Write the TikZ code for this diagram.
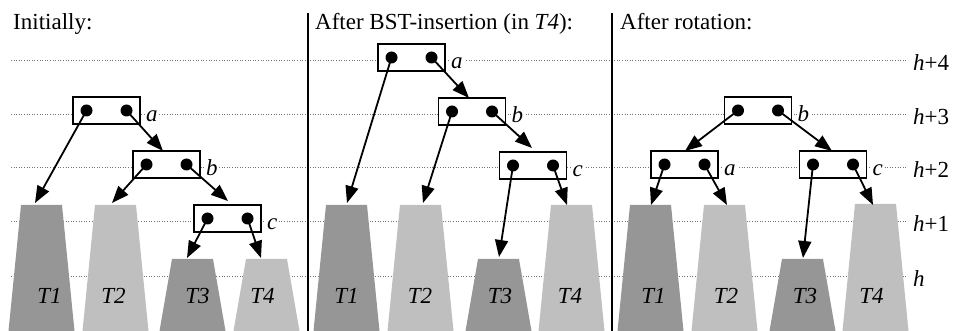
\documentclass[tikz,border=0pt]{standalone}
\usepackage{fontspec}
\setmainfont{Liberation Serif}
\usetikzlibrary{arrows.meta}

% trapezoid standing for a subtree: centre x, top y, fill style
\newcommand\subtreeshape[3]{%
  \path[#3] ({#1-20.5},#2) -- ({#1+20.5},#2) -- ({#1+33},331) -- ({#1-33},331) -- cycle;}

\begin{document}
\begin{tikzpicture}[x=1pt,y=-1pt,
  levelline/.style={black!55, dash pattern=on 1pt off 1.6pt, line width=0.9pt},
  sepline/.style={line width=1.6pt},
  darktree/.style={fill=black!41},
  lighttree/.style={fill=black!25},
  rec/.style={draw, fill=white, line width=1.6pt, minimum width=67pt,
              minimum height=27pt, inner sep=0pt},
  dot/.style={circle, fill=black, minimum size=12pt, inner sep=0pt},
  ptr/.style={-{Triangle[length=17pt,width=13pt]}, line width=1.8pt},
  txt/.style={font=\fontsize{23}{27}\selectfont, inner sep=0pt},
  lab/.style={txt, font=\fontsize{23}{27}\selectfont\itshape, anchor=base west,
              fill=white, inner sep=1pt},
  tlab/.style={txt, font=\fontsize{23}{27}\selectfont\itshape, anchor=base},
]
\useasboundingbox (0,0) rectangle (956,331);

% height levels
\foreach \yy/\name in {60/{\textit{h}+4},114/{\textit{h}+3},167/{\textit{h}+2},221/{\textit{h}+1},276/{\textit{h}}} {
  \draw[levelline] (11,\yy) -- (908,\yy);
  \node[txt, anchor=base west] at (913,\yy+10.5) {\name};
}

% panel separators
\draw[sepline] (308,13) -- (308,331);
\draw[sepline] (612,13) -- (612,331);

% titles
\node[txt, anchor=base west] (title1) at (13,30) {Initially:};
\node[txt, anchor=base west] (title2) at (315,30) {After BST-insertion (in \textit{T4}):};
\node[txt, anchor=base west] (title3) at (620,30) {After rotation:};

% ---------- panel 1 ----------
\subtreeshape{41.5}{205}{darktree}
\subtreeshape{115.5}{205}{lighttree}
\subtreeshape{192.5}{259}{darktree}
\subtreeshape{266.5}{259}{lighttree}
\node[tlab] (p1t1) at (49.5,303) {T1};
\node[tlab] (p1t2) at (113.5,303) {T2};
\node[tlab] (p1t3) at (197.5,303) {T3};
\node[tlab] (p1t4) at (262.5,303) {T4};
\coordinate (p1t1top) at (35,203);
\coordinate (p1t2top) at (112,203);
\coordinate (p1t3top) at (187,258);
\coordinate (p1t4top) at (261,258);
\coordinate (p1btop) at (163,151);
\coordinate (p1ctop) at (228,201);

\node[rec] (p1a) at (106.5,110.5) {};
\node[rec] (p1b) at (166.5,164.5) {};
\node[rec] (p1c) at (227.5,218.5) {};
\foreach \n/\l in {p1a/a,p1b/b,p1c/c} {
  \node[dot] (\n l) at ([xshift=-20pt]\n.center) {};
  \node[dot] (\n r) at ([xshift=20pt]\n.center) {};
  \node[lab] (\n lab) at ([xshift=4pt,yshift=-11.5pt]\n.east) {\l};
}
\draw[ptr] (p1al.center) -- (p1t1top);
\draw[ptr] (p1ar.center) -- (p1btop);
\draw[ptr] (p1bl.center) -- (p1t2top);
\draw[ptr] (p1br.center) -- (p1ctop);
\draw[ptr] (p1cl.center) -- (p1t3top);
\draw[ptr] (p1cr.center) -- (p1t4top);

% ---------- panel 2 ----------
\subtreeshape{346.5}{205}{darktree}
\subtreeshape{420.5}{205}{lighttree}
\subtreeshape{498.5}{259}{darktree}
\subtreeshape{571.5}{205}{lighttree}
\node[tlab] (p2t1) at (346.5,303) {T1};
\node[tlab] (p2t2) at (420,303) {T2};
\node[tlab] (p2t3) at (500,303) {T3};
\node[tlab] (p2t4) at (570,303) {T4};
\coordinate (p2t1top) at (347,203);
\coordinate (p2t2top) at (423,203);
\coordinate (p2t3top) at (499,257);
\coordinate (p2t4top) at (567,205);
\coordinate (p2btop) at (469,98);
\coordinate (p2ctop) at (532,148);

\node[rec] (p2a) at (411.5,57.5) {};
\node[rec] (p2b) at (472,111.5) {};
\node[rec] (p2c) at (533,165.5) {};
\foreach \n/\l in {p2a/a,p2b/b,p2c/c} {
  \node[dot] (\n l) at ([xshift=-20pt]\n.center) {};
  \node[dot] (\n r) at ([xshift=20pt]\n.center) {};
  \node[lab] (\n lab) at ([xshift=4pt,yshift=-11.5pt]\n.east) {\l};
}
\draw[ptr] (p2al.center) -- (p2t1top);
\draw[ptr] (p2ar.center) -- (p2btop);
\draw[ptr] (p2bl.center) -- (p2t2top);
\draw[ptr] (p2br.center) -- (p2ctop);
\draw[ptr] (p2cl.center) -- (p2t3top);
\draw[ptr] (p2cr.center) -- (p2t4top);

% ---------- panel 3 ----------
\subtreeshape{650.5}{205}{darktree}
\subtreeshape{724.5}{205}{lighttree}
\subtreeshape{802.5}{259}{darktree}
\subtreeshape{875.5}{204}{lighttree}
\node[tlab] (p3t1) at (653.5,303) {T1};
\node[tlab] (p3t2) at (726,303) {T2};
\node[tlab] (p3t3) at (805,303) {T3};
\node[tlab] (p3t4) at (871.5,303) {T4};
\coordinate (p3t1top) at (651,205);
\coordinate (p3t2top) at (727,205);
\coordinate (p3t3top) at (803,258);
\coordinate (p3t4top) at (873,205);
\coordinate (p3atop) at (685,151);
\coordinate (p3ctop) at (832,151);

\node[rec] (p3b) at (758,110.5) {};
\node[rec] (p3a) at (684.5,164.5) {};
\node[rec] (p3c) at (833,164.5) {};
\foreach \n/\l in {p3a/a,p3b/b,p3c/c} {
  \node[dot] (\n l) at ([xshift=-20pt]\n.center) {};
  \node[dot] (\n r) at ([xshift=20pt]\n.center) {};
  \node[lab] (\n lab) at ([xshift=4pt,yshift=-11.5pt]\n.east) {\l};
}
\draw[ptr] (p3bl.center) -- (p3atop);
\draw[ptr] (p3br.center) -- (p3ctop);
\draw[ptr] (p3al.center) -- (p3t1top);
\draw[ptr] (p3ar.center) -- (p3t2top);
\draw[ptr] (p3cl.center) -- (p3t3top);
\draw[ptr] (p3cr.center) -- (p3t4top);
\end{tikzpicture}
\end{document}
